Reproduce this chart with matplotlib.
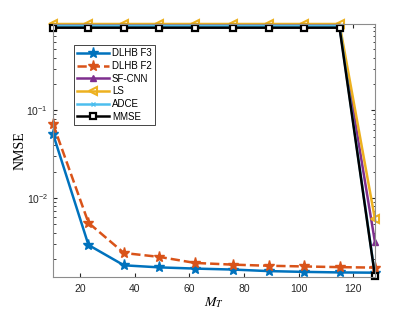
import numpy as np
import matplotlib.pyplot as plt

plt.rcParams['font.family'] = ['Liberation Sans', 'DejaVu Sans']
plt.rcParams['mathtext.fontset'] = 'stix'

m_t = [10, 23, 36, 49, 62, 76, 89, 102, 115, 128]

dlhb_f3 = [0.054, 0.0029, 0.0017, 0.00161, 0.00156, 0.00152, 0.00146, 0.00143, 0.00141, 0.00140]
dlhb_f2 = [0.070, 0.0052, 0.00235, 0.00212, 0.00181, 0.00173, 0.00168, 0.00165, 0.00162, 0.00160]
sf_cnn = [0.90, 0.90, 0.90, 0.90, 0.90, 0.90, 0.90, 0.90, 0.90, 0.0031]
ls = [0.97, 0.97, 0.97, 0.97, 0.97, 0.97, 0.97, 0.97, 0.97, 0.0057]
adce = [0.92, 0.92, 0.92, 0.92, 0.92, 0.92, 0.92, 0.92, 0.92, 0.0013]
mmse = [0.88, 0.88, 0.88, 0.88, 0.88, 0.88, 0.88, 0.88, 0.88, 0.00127]

fig = plt.figure(figsize=(4.15, 3.12), dpi=100)
ax = fig.add_axes([53/415, 35/312, 322/415, 253/312])

ax.plot(m_t, dlhb_f3, '-', color='#0072BD', lw=1.8, marker='*', ms=8, label='DLHB F3', clip_on=False)
ax.plot(m_t, dlhb_f2, '--', color='#D95319', lw=1.8, marker='*', ms=8, label='DLHB F2', clip_on=False)
ax.plot(m_t, sf_cnn, '-', color='#7E2F8E', lw=1.8, marker='^', ms=5, label='SF-CNN', clip_on=False)
ax.plot(m_t, ls, '-', color='#EDB120', lw=1.8, marker='<', ms=6, mfc='none', mew=1.5, label='LS',
        clip_on=False)
ax.plot(m_t, adce, '-', color='#4DBEEE', lw=1.8, marker='x', ms=3, label='ADCE', clip_on=False)
ax.plot(m_t, mmse, '-', color='black', lw=1.8, marker='s', ms=4, mfc='white', mew=1.6,
        label='MMSE', clip_on=False)

ax.set_yscale('log')
ax.set_xlim(10, 128)
ax.set_ylim(1.25e-3, 0.97)
ax.set_xticks([20, 40, 60, 80, 100, 120])

for s in ax.spines.values():
    s.set_color('#8c8c8c')
    s.set_linewidth(0.8)
ax.tick_params(which='both', direction='in', top=True, right=True, colors='#262626',
               labelsize=7.5, length=3)
ax.tick_params(which='minor', length=1.8)
ax.tick_params(axis='x', pad=5)

ax.set_xlabel('$M_T$', fontsize=10, labelpad=1)
ax.set_ylabel('NMSE', fontsize=10, family='Liberation Serif', labelpad=0)

leg = ax.legend(loc='upper left', bbox_to_anchor=(0.05, 0.935), fontsize=7,
                handlelength=3.3, labelspacing=0.28, borderpad=0.3, handletextpad=0.3,
                fancybox=False, framealpha=1)
leg.get_frame().set_edgecolor('#262626')
leg.get_frame().set_linewidth(0.6)

fig.savefig('out.png', dpi=100)
